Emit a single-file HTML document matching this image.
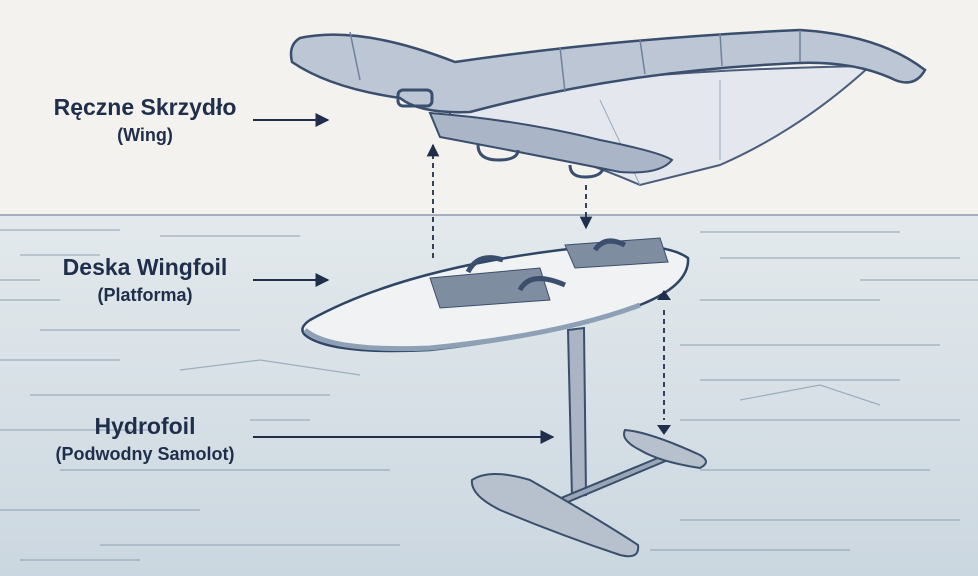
<!DOCTYPE html>
<html><head><meta charset="utf-8"><style>
html,body{margin:0;padding:0;width:978px;height:576px;overflow:hidden;background:#f3f2ee}
svg{display:block}
text{font-family:"Liberation Sans Narrow","Liberation Sans",sans-serif;font-weight:bold;fill:#1f2e4a}
</style></head><body>
<svg width="978" height="576" viewBox="0 0 978 576" xmlns="http://www.w3.org/2000/svg">
<defs>
<linearGradient id="w" x1="0" y1="0" x2="0" y2="1"><stop offset="0" stop-color="#e3e9ec"/><stop offset="1" stop-color="#cbd7e0"/></linearGradient>
<marker id="a" viewBox="0 0 10 10" refX="9" refY="5" markerWidth="7" markerHeight="7" orient="auto"><path d="M0,0L10,5L0,10z" fill="#1f2e4a"/></marker>
</defs>
<rect width="978" height="215" fill="#f3f2ee"/>
<rect y="215" width="978" height="361" fill="url(#w)"/>
<line x1="0" y1="215" x2="978" y2="215" stroke="#8a9aae" stroke-width="1.5"/>
<g stroke="#8fa0b3" stroke-width="1.2" fill="none" opacity="0.8">
<path d="M0,230h120M160,236h140M700,232h200M20,255h80M720,258h240M0,300h60M700,300h180M40,330h200M680,345h260M0,360h120M30,395h300M700,380h200M0,430h150M680,420h280M60,470h330M700,470h230M0,510h200M680,520h280M100,545h300M650,550h200M180,370l80,-10l100,15M740,400l80,-15l60,20M0,280h40M860,280h118M250,420h60M20,560h120"/>
</g>
<!-- wing canopy -->
<path d="M450,100 Q620,70 870,66 Q800,130 720,165 L640,185 Q560,150 450,125z" fill="#e4e8ee" stroke="#4a5d7a" stroke-width="2"/>
<path d="M600,100 L640,185 M720,80 L720,160" stroke="#9aa8ba" stroke-width="1"/>
<!-- leading edge tube -->
<path d="M300,38 Q360,25 455,62 Q620,38 800,30 Q880,35 925,70 Q915,88 895,80 Q850,58 780,64 Q620,72 470,112 Q420,114 400,98 Q330,88 292,62 Q288,45 300,38z" fill="#bcc6d5" stroke="#3a4e6d" stroke-width="2.5"/>
<path d="M350,32 L360,80 M560,47 L565,92 M640,40 L645,74 M720,33 L722,66 M800,30 L800,62" stroke="#6f819b" stroke-width="1.5"/>
<!-- strut -->
<path d="M430,113 Q520,120 600,140 Q660,152 672,160 Q660,175 620,172 Q520,152 440,137z" fill="#aab6c8" stroke="#3a4e6d" stroke-width="2"/>
<rect x="398" y="90" width="34" height="16" rx="5" fill="none" stroke="#3a4e6d" stroke-width="3"/>
<path d="M478,145 q0,15 20,15 q20,0 20,-10" fill="none" stroke="#3a4e6d" stroke-width="3"/>
<path d="M570,165 q0,12 15,12 q15,0 18,-8" fill="none" stroke="#3a4e6d" stroke-width="3"/>
<!-- board -->
<path d="M310,320 Q400,270 560,250 Q660,238 688,258 Q690,285 640,305 Q560,335 430,350 Q330,355 305,335 Q298,328 310,320z" fill="#f1f2f3" stroke="#2f4565" stroke-width="2.5"/>
<path d="M305,330 Q330,352 430,348 Q560,335 640,305" fill="none" stroke="#8ea0b5" stroke-width="5"/>
<path d="M430,278 L540,268 L550,300 L440,308z" fill="#7f8da0" stroke="#3a4e6d"/>
<path d="M565,245 L660,238 L668,262 L575,268z" fill="#7f8da0" stroke="#3a4e6d"/>
<path d="M468,272 q10,-20 35,-12" fill="none" stroke="#3a4e6d" stroke-width="5"/>
<path d="M520,290 q10,-20 45,-5" fill="none" stroke="#3a4e6d" stroke-width="5"/>
<path d="M595,250 q10,-15 30,-5" fill="none" stroke="#3a4e6d" stroke-width="5"/>
<!-- mast -->
<path d="M568,330 L584,328 L586,495 L572,497z" fill="#aab4c2" stroke="#3a4e6d" stroke-width="2"/>
<path d="M520,515 L665,455 L668,460 L525,520z" fill="#9aa6b6" stroke="#3a4e6d" stroke-width="2"/>
<path d="M472,480 Q490,468 530,480 Q600,520 638,545 Q640,560 620,555 Q560,535 500,510 Q470,495 472,480z" fill="#b7c0cd" stroke="#3a4e6d" stroke-width="2"/>
<path d="M625,430 Q650,432 700,455 Q712,462 700,468 Q660,462 640,450 Q620,440 625,430z" fill="#b7c0cd" stroke="#3a4e6d" stroke-width="2"/>
<g stroke="#1f2e4a" stroke-width="1.8" stroke-dasharray="5,4" fill="none">
<line x1="433" y1="258" x2="433" y2="145" marker-end="url(#a)"/>
<line x1="586" y1="185" x2="586" y2="228" marker-end="url(#a)"/>
<line x1="664" y1="310" x2="664" y2="420"/>
</g>
<path d="M657,300 L664,290 L671,300z M657,425 L664,435 L671,425z" fill="#1f2e4a"/>
<g stroke="#1f2e4a" stroke-width="2">
<line x1="253" y1="120" x2="328" y2="120" marker-end="url(#a)"/>
<line x1="253" y1="280" x2="328" y2="280" marker-end="url(#a)"/>
<line x1="253" y1="437" x2="553" y2="437" marker-end="url(#a)"/>
</g>
<text x="145" y="115" font-size="23" text-anchor="middle">Ręczne Skrzydło</text>
<text x="145" y="141" font-size="18" text-anchor="middle">(Wing)</text>
<text x="145" y="275" font-size="23" text-anchor="middle">Deska Wingfoil</text>
<text x="145" y="301" font-size="18" text-anchor="middle">(Platforma)</text>
<text x="145" y="434" font-size="23" text-anchor="middle">Hydrofoil</text>
<text x="145" y="460" font-size="18" text-anchor="middle">(Podwodny Samolot)</text>
</svg>
</body></html>
